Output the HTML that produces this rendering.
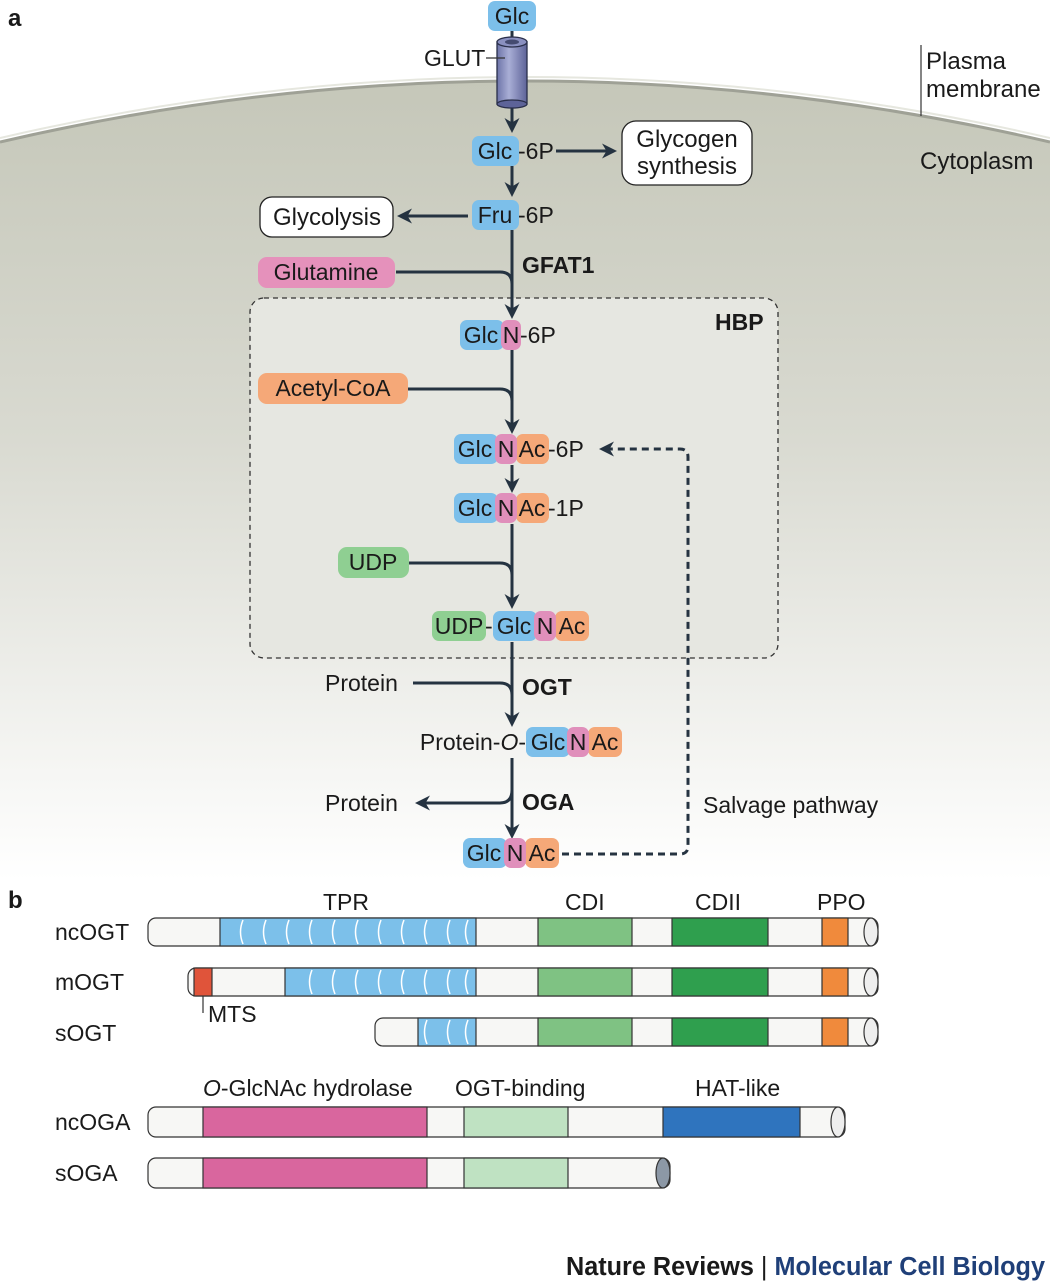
<!DOCTYPE html>
<html><head><meta charset="utf-8"><style>
body{margin:0;background:#fff}
svg{display:block;font-family:"Liberation Sans",sans-serif}
</style></head><body>
<svg width="1050" height="1282" viewBox="0 0 1050 1282" xmlns="http://www.w3.org/2000/svg">
<defs>
<linearGradient id="cyto" x1="0" y1="0" x2="0" y2="1">
<stop offset="0" stop-color="#c5c7b9"/><stop offset="0.45" stop-color="#d9dad1"/><stop offset="1" stop-color="#ffffff"/>
</linearGradient>
<linearGradient id="cyl" x1="0" y1="0" x2="1" y2="0">
<stop offset="0" stop-color="#6d74a8"/><stop offset="0.4" stop-color="#a9aed6"/><stop offset="1" stop-color="#5d6398"/>
</linearGradient>
<marker id="ah" viewBox="0 0 10 10" refX="8" refY="5" markerWidth="5" markerHeight="5" orient="auto"><path d="M0,0 L10,5 L0,10 L3,5 z" fill="#253341"/></marker>
</defs>
<path d="M0,142 Q525,20 1050,142 L1050,880 L0,880 Z" fill="url(#cyto)"/>
<path d="M0,142 Q525,20 1050,142" fill="none" stroke="#9fa196" stroke-width="3"/>
<path d="M0,138 Q525,16 1050,138" fill="none" stroke="#e6e7df" stroke-width="2"/>
<rect x="250" y="298" width="528" height="360" rx="14" fill="#e6e7e1" stroke="#333" stroke-width="1.3" stroke-dasharray="5,4"/>
<g font-size="23" fill="#1a1a1a">
<text x="8" y="26" font-weight="bold" font-size="24">a</text>
<text x="8" y="908" font-weight="bold" font-size="24">b</text>
<g stroke="#253341" stroke-width="3" fill="none">
<line x1="512" y1="30" x2="512" y2="42"/>
<line x1="512" y1="106" x2="512" y2="130" marker-end="url(#ah)"/>
<line x1="512" y1="166" x2="512" y2="194" marker-end="url(#ah)"/>
<line x1="556" y1="151" x2="614" y2="151" marker-end="url(#ah)"/>
<line x1="468" y1="216" x2="400" y2="216" marker-end="url(#ah)"/>
<line x1="512" y1="230" x2="512" y2="316" marker-end="url(#ah)"/>
<path d="M396,272 H500 Q512,272 512,284"/>
<line x1="512" y1="350" x2="512" y2="431" marker-end="url(#ah)"/>
<path d="M408,389 H500 Q512,389 512,401"/>
<line x1="512" y1="465" x2="512" y2="490" marker-end="url(#ah)"/>
<line x1="512" y1="524" x2="512" y2="606" marker-end="url(#ah)"/>
<path d="M409,563 H500 Q512,563 512,575"/>
<line x1="512" y1="642" x2="512" y2="724" marker-end="url(#ah)"/>
<path d="M413,683 H500 Q512,683 512,695"/>
<line x1="512" y1="758" x2="512" y2="836" marker-end="url(#ah)"/>
<path d="M512,790 Q512,803 500,803 H418" marker-end="url(#ah)"/>
<path d="M562,854 H680 Q688,854 688,846 V457 Q688,449 680,449 H602" stroke-dasharray="7,5" marker-end="url(#ah)"/>
</g>
<rect x="497" y="42" width="30" height="62" fill="url(#cyl)" stroke="#2a2f4a" stroke-width="1.3"/>
<ellipse cx="512" cy="104" rx="15" ry="4" fill="#5d6398" stroke="#2a2f4a" stroke-width="1.3"/>
<ellipse cx="512" cy="42" rx="15" ry="5" fill="#8a90c0" stroke="#2a2f4a" stroke-width="1.3"/>
<ellipse cx="512" cy="42" rx="7" ry="2.5" fill="#444a70"/>
<line x1="486" y1="58" x2="505" y2="58" stroke="#333" stroke-width="1.2"/>
<text x="424" y="66">GLUT</text>
<line x1="921" y1="45" x2="921" y2="116" stroke="#333" stroke-width="1.2"/>
<text x="926" y="69" font-size="24">Plasma</text><text x="926" y="97" font-size="24">membrane</text>
<text x="920" y="169" font-size="24">Cytoplasm</text>
<g>
<rect x="488" y="1" width="48" height="30" rx="7" fill="#7cbfea"/><text x="512" y="24" text-anchor="middle">Glc</text>
<rect x="472" y="136" width="47" height="30" rx="7" fill="#7cbfea"/><text x="495" y="159" text-anchor="middle">Glc</text><text x="518" y="159">-6P</text>
<rect x="472" y="200" width="47" height="30" rx="7" fill="#7cbfea"/><text x="495" y="223" text-anchor="middle">Fru</text><text x="518" y="223">-6P</text>
<rect x="622" y="121" width="130" height="64" rx="14" fill="#fff" stroke="#222" stroke-width="1.3"/>
<text x="687" y="147" text-anchor="middle" font-size="24">Glycogen</text><text x="687" y="174" text-anchor="middle" font-size="24">synthesis</text>
<rect x="260" y="197" width="133" height="40" rx="12" fill="#fff" stroke="#222" stroke-width="1.3"/>
<text x="327" y="225" text-anchor="middle" font-size="24">Glycolysis</text>
<rect x="258" y="257" width="137" height="31" rx="9" fill="#e591bb"/><text x="326" y="280" text-anchor="middle">Glutamine</text>
<text x="522" y="273" font-weight="bold">GFAT1</text>
<text x="715" y="330" font-weight="bold">HBP</text>
<rect x="460" y="320" width="44" height="30" rx="7" fill="#7cbfea"/><rect x="501" y="320" width="20" height="30" rx="7" fill="#e08fbb"/>
<text x="481" y="343" text-anchor="middle">Glc</text><text x="511" y="343" text-anchor="middle">N</text><text x="520" y="343">-6P</text>
<rect x="258" y="373" width="150" height="31" rx="9" fill="#f5a878"/><text x="333" y="396" text-anchor="middle">Acetyl-CoA</text>
<rect x="454" y="434" width="44" height="30" rx="7" fill="#7cbfea"/><rect x="516" y="434" width="33" height="30" rx="7" fill="#f5a878"/><rect x="495" y="434" width="22" height="30" rx="7" fill="#e08fbb"/>
<text x="475" y="457" text-anchor="middle">Glc</text><text x="506" y="457" text-anchor="middle">N</text><text x="532" y="457" text-anchor="middle">Ac</text><text x="548" y="457">-6P</text>
<rect x="454" y="493" width="44" height="30" rx="7" fill="#7cbfea"/><rect x="516" y="493" width="33" height="30" rx="7" fill="#f5a878"/><rect x="495" y="493" width="22" height="30" rx="7" fill="#e08fbb"/>
<text x="475" y="516" text-anchor="middle">Glc</text><text x="506" y="516" text-anchor="middle">N</text><text x="532" y="516" text-anchor="middle">Ac</text><text x="548" y="516">-1P</text>
<rect x="338" y="547" width="71" height="31" rx="9" fill="#8fcf92"/><text x="373" y="570" text-anchor="middle">UDP</text>
<rect x="432" y="611" width="54" height="30" rx="7" fill="#8fcf92"/><rect x="493" y="611" width="44" height="30" rx="7" fill="#7cbfea"/><rect x="555" y="611" width="34" height="30" rx="7" fill="#f5a878"/><rect x="534" y="611" width="22" height="30" rx="7" fill="#e08fbb"/>
<text x="459" y="634" text-anchor="middle">UDP</text><text x="485" y="634">-</text><text x="514" y="634" text-anchor="middle">Glc</text><text x="545" y="634" text-anchor="middle">N</text><text x="572" y="634" text-anchor="middle">Ac</text>
<text x="325" y="691">Protein</text>
<text x="522" y="695" font-weight="bold">OGT</text>
<rect x="526" y="727" width="44" height="30" rx="7" fill="#7cbfea"/><rect x="588" y="727" width="34" height="30" rx="7" fill="#f5a878"/><rect x="567" y="727" width="22" height="30" rx="7" fill="#e08fbb"/>
<text x="526" y="750" text-anchor="end">Protein-<tspan font-style="italic">O</tspan>-</text><text x="548" y="750" text-anchor="middle">Glc</text><text x="578" y="750" text-anchor="middle">N</text><text x="605" y="750" text-anchor="middle">Ac</text>
<text x="325" y="811">Protein</text>
<text x="522" y="810" font-weight="bold">OGA</text>
<text x="703" y="813">Salvage pathway</text>
<rect x="463" y="838" width="44" height="30" rx="7" fill="#7cbfea"/><rect x="525" y="838" width="34" height="30" rx="7" fill="#f5a878"/><rect x="504" y="838" width="22" height="30" rx="7" fill="#e08fbb"/>
<text x="484" y="861" text-anchor="middle">Glc</text><text x="515" y="861" text-anchor="middle">N</text><text x="542" y="861" text-anchor="middle">Ac</text>
</g>
<g stroke="#333" stroke-width="1.2">
<rect x="148" y="918" width="730" height="28" rx="8" fill="#f7f7f5"/>
<rect x="220" y="918" width="256" height="28" fill="#7cc0ea"/>
<rect x="538" y="918" width="94" height="28" fill="#7fc283"/>
<rect x="672" y="918" width="96" height="28" fill="#2f9f4e"/>
<rect x="822" y="918" width="26" height="28" fill="#f08a3c"/>
<ellipse cx="871" cy="932" rx="7" ry="14" fill="#eee"/>
<rect x="188" y="968" width="690" height="28" rx="8" fill="#f7f7f5"/>
<rect x="194" y="968" width="18" height="28" fill="#e0543a"/>
<rect x="285" y="968" width="191" height="28" fill="#7cc0ea"/>
<rect x="538" y="968" width="94" height="28" fill="#7fc283"/>
<rect x="672" y="968" width="96" height="28" fill="#2f9f4e"/>
<rect x="822" y="968" width="26" height="28" fill="#f08a3c"/>
<ellipse cx="871" cy="982" rx="7" ry="14" fill="#eee"/>
<line x1="203" y1="996" x2="203" y2="1013"/>
<rect x="375" y="1018" width="503" height="28" rx="8" fill="#f7f7f5"/>
<rect x="418" y="1018" width="58" height="28" fill="#7cc0ea"/>
<rect x="538" y="1018" width="94" height="28" fill="#7fc283"/>
<rect x="672" y="1018" width="96" height="28" fill="#2f9f4e"/>
<rect x="822" y="1018" width="26" height="28" fill="#f08a3c"/>
<ellipse cx="871" cy="1032" rx="7" ry="14" fill="#eee"/>
<rect x="148" y="1107" width="697" height="30" rx="8" fill="#f7f7f5"/>
<rect x="203" y="1107" width="224" height="30" fill="#d9669e"/>
<rect x="464" y="1107" width="104" height="30" fill="#bfe2c2"/>
<rect x="663" y="1107" width="137" height="30" fill="#2f74be"/>
<ellipse cx="838" cy="1122" rx="7" ry="15" fill="#eee"/>
<rect x="148" y="1158" width="522" height="30" rx="8" fill="#f7f7f5"/>
<rect x="203" y="1158" width="224" height="30" fill="#d9669e"/>
<rect x="464" y="1158" width="104" height="30" fill="#bfe2c2"/>
<ellipse cx="663" cy="1173" rx="7" ry="15" fill="#8c98a6"/>
</g>
<g stroke="#fff" stroke-width="1.5" fill="none">
<path d="M243,920 q-5,12 0,24 M266,920 q-5,12 0,24 M289,920 q-5,12 0,24 M312,920 q-5,12 0,24 M335,920 q-5,12 0,24 M358,920 q-5,12 0,24 M381,920 q-5,12 0,24 M404,920 q-5,12 0,24 M427,920 q-5,12 0,24 M450,920 q-5,12 0,24 M468,920 q-5,12 0,24"/>
<path d="M312,970 q-5,12 0,24 M335,970 q-5,12 0,24 M358,970 q-5,12 0,24 M381,970 q-5,12 0,24 M404,970 q-5,12 0,24 M427,970 q-5,12 0,24 M450,970 q-5,12 0,24 M468,970 q-5,12 0,24"/>
<path d="M427,1020 q-5,12 0,24 M450,1020 q-5,12 0,24 M468,1020 q-5,12 0,24"/>
</g>
<text x="55" y="940">ncOGT</text>
<text x="55" y="990">mOGT</text>
<text x="55" y="1041">sOGT</text>
<text x="208" y="1022">MTS</text>
<text x="323" y="910">TPR</text>
<text x="565" y="910">CDI</text>
<text x="695" y="910">CDII</text>
<text x="817" y="910">PPO</text>
<text x="55" y="1130">ncOGA</text>
<text x="55" y="1181">sOGA</text>
<text x="203" y="1096"><tspan font-style="italic">O</tspan>-GlcNAc hydrolase</text>
<text x="455" y="1096">OGT-binding</text>
<text x="695" y="1096">HAT-like</text>
<text x="566" y="1275" font-weight="bold" font-size="25.5" textLength="479" lengthAdjust="spacingAndGlyphs">Nature Reviews <tspan font-weight="normal">|</tspan> <tspan fill="#1f3f78">Molecular Cell Biology</tspan></text>
</g>
</svg>
</body></html>
